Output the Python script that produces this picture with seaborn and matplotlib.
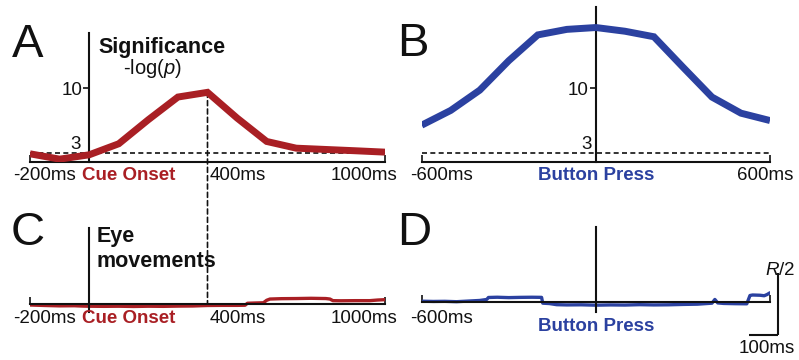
import matplotlib
matplotlib.use('Agg')
import matplotlib.pyplot as plt
from matplotlib.patches import ConnectionPatch
import seaborn as sns

# ---- data ----
# significance -log(p), one point every 100 ms
cue_ms = [-200, -100, 0, 100, 200, 300, 400, 500, 600, 700, 800, 900, 1000]
cue_sig = [2.89, 2.31, 2.78, 3.98, 6.59, 9.05, 9.56, 6.77, 4.23, 3.5, 3.36, 3.22, 3.07]
press_ms = [-600, -500, -400, -300, -200, -100, 0, 100, 200, 300, 400, 500, 600]
press_sig = [6.0, 7.6, 9.8, 13.0, 15.8, 16.4, 16.6, 16.2, 15.6, 12.3, 9.05, 7.3, 6.5]

# eye movements (units of R)
eye_cue_ms = [-200, -150, -100, -50, -20, 0, 50, 100, 150, 200, 250, 300, 350, 400,
              450, 500, 527, 535, 560, 589, 600, 611, 650, 700, 750, 800, 814,
              824, 850, 900, 949, 975, 1000]
eye_cue = [-0.008, -0.012, -0.015, -0.014, -0.017, -0.018, -0.019, -0.018, -0.02,
           -0.018, -0.019, -0.017, -0.016, -0.012, -0.011, -0.011, -0.01, 0.006,
           0.008, 0.01, 0.03, 0.04, 0.043, 0.044, 0.046, 0.044, 0.04, 0.027,
           0.026, 0.027, 0.027, 0.032, 0.035]
eye_press_ms = [-600, -560, -520, -480, -440, -400, -376, -370, -340, -300, -260,
                -220, -187, -183, -160, -135, -100, -50, 0, 50, 100, 150, 200,
                250, 300, 350, 400, 410, 420, 440, 480, 520, 531, 540, 566, 580,
                590, 600]
eye_press = [0.004, 0.002, 0.003, 0.0, 0.005, 0.01, 0.018, 0.034, 0.036, 0.033,
             0.035, 0.036, 0.035, -0.012, -0.015, -0.024, -0.026, -0.025, -0.028,
             -0.026, -0.027, -0.024, -0.026, -0.025, -0.022, -0.02, -0.012,
             0.018, -0.01, -0.014, -0.016, -0.017, 0.05, 0.054, 0.052, 0.048,
             0.058, 0.072]

red = '#A91F24'
blue = '#2B41A0'
ink = '#111111'

sns.set_theme(style='white')
plt.rcParams['font.family'] = ['Liberation Sans', 'DejaVu Sans']
plt.rcParams['mathtext.fontset'] = 'custom'
plt.rcParams['mathtext.it'] = 'Liberation Sans:italic'
plt.rcParams['mathtext.rm'] = 'Liberation Sans'
plt.rcParams['text.color'] = ink
plt.rcParams['xtick.color'] = ink
plt.rcParams['ytick.color'] = ink
plt.rcParams['xtick.labelcolor'] = ink
plt.rcParams['ytick.labelcolor'] = ink

W, H = 799, 360
fig = plt.figure(figsize=(W / 100, H / 100), dpi=100)


def px_box(x0, ytop, x1, ybot):
    return [x0 / W, 1 - ybot / H, (x1 - x0) / W, (ybot - ytop) / H]


def ftext(x, y, s, **kw):
    fig.text(x / W, 1 - y / H, s, **kw)


def lab(ax, s, x, y, dx, dy, ha, **kw):
    # dx, dy in pixels
    ax.annotate(s, xy=(x, y), xytext=(dx * 0.72, dy * 0.72), textcoords='offset points',
                ha=ha, va='top', fontsize=13.5, annotation_clip=False, **kw)


axA = fig.add_axes(px_box(30, 33, 385, 162))
axB = fig.add_axes(px_box(421.7, 7, 770, 162))
axC = fig.add_axes(px_box(30, 228, 385, 311.7))
axD = fig.add_axes(px_box(421.7, 226.7, 770, 311.7))

for ax in (axA, axB, axC, axD):
    ax.set_facecolor('none')
    for s in ('top', 'right'):
        ax.spines[s].set_visible(False)
    ax.spines['left'].set_position(('data', 0))
    for s in ('left', 'bottom'):
        ax.spines[s].set_color(ink)
        ax.spines[s].set_linewidth(1.5)
    ax.set_xlabel('')
    ax.set_ylabel('')

# ---- A / B : significance ----
axA.set_xlim(-200, 1000)
axA.set_ylim(2, 16)
axB.set_xlim(-600, 600)
axB.set_ylim(2, 2 + 155 / 9.21)

for ax, xs, ys, col in ((axA, cue_ms, cue_sig, red), (axB, press_ms, press_sig, blue)):
    ax.axhline(3, color=ink, lw=1.2, ls='--', dashes=(3, 2), zorder=1)
    sns.lineplot(x=xs, y=ys, ax=ax, color=col, lw=5, zorder=3,
                 solid_joinstyle='miter', solid_capstyle='butt')
    ax.set_xticks([ax.get_xlim()[0], ax.get_xlim()[1]])
    ax.set_xticklabels([])
    ax.tick_params(axis='x', direction='in', length=5, width=1.2, color=ink, bottom=True)
    ax.set_yticks([10])
    ax.set_yticklabels(['10'], fontsize=13.5)
    ax.tick_params(axis='y', direction='out', length=4, width=1.2, color=ink,
                   pad=1, left=True)

axA.annotate('3', xy=(0, 3), xytext=(-8 * 0.72, 0), textcoords='offset points',
             ha='right', va='bottom', fontsize=13.5)
axB.annotate('3', xy=(0, 3), xytext=(-4 * 0.72, 0), textcoords='offset points',
             ha='right', va='bottom', fontsize=13.5)

yb = 2
lab(axA, '-200ms', -200, yb, -17, -5, 'left')
lab(axA, 'Cue Onset', 0, yb, -7, -5, 'left', color=red, fontweight='bold')
lab(axA, '400ms', 400, yb, 2.5, -5, 'left')
lab(axA, '1000ms', 1000, yb, 12, -5, 'right')
lab(axB, '-600ms', -600, yb, -11.7, -5, 'left')
lab(axB, 'Button Press', 0, yb, 0, -5, 'center', color=blue, fontweight='bold')
lab(axB, '600ms', 600, yb, 23, -5, 'right')

# ---- C / D : eye movements ----
axC.set_xlim(-200, 1000)
axC.set_ylim(-7.7 / 124, 76 / 124)
axD.set_xlim(-600, 600)
axD.set_ylim(-10 / 124, 75 / 124)

for ax, xs, ys, col in ((axC, eye_cue_ms, eye_cue, red), (axD, eye_press_ms, eye_press, blue)):
    ax.spines['bottom'].set_position(('data', 0))
    sns.lineplot(x=xs, y=ys, ax=ax, color=col, lw=2.4, zorder=2)
    ax.set_xticks([ax.get_xlim()[0], ax.get_xlim()[1]])
    ax.set_xticklabels([])
    ax.tick_params(axis='x', direction='in', length=5, width=1.2, color=ink, bottom=True)
    ax.set_yticks([])

lab(axC, '-200ms', -200, 0, -17, -6, 'left')
lab(axC, 'Cue Onset', 0, 0, -7, -6, 'left', color=red, fontweight='bold')
lab(axC, '400ms', 400, 0, 2.5, -6, 'left')
lab(axC, '1000ms', 1000, 0, 12, -6, 'right')
lab(axD, '-600ms', -600, 0, -11.7, -8, 'left')
lab(axD, 'Button Press', 0, 0, 0, -16, 'center', color=blue, fontweight='bold')

# scale bar in D: 100 ms by R/2
axD.plot([528, 628], [-0.269, -0.269], color=ink, lw=1.5, clip_on=False,
         solid_capstyle='butt')
axD.plot([628, 628], [-0.269, 0.231], color=ink, lw=1.5, clip_on=False,
         solid_capstyle='butt')
ftext(795, 275, '$R$/2', ha='right', va='baseline', fontsize=13.5)
ftext(767, 353, '100ms', ha='center', va='baseline', fontsize=13.5)

# dashed line through the peak, running from A down to C
con = ConnectionPatch(xyA=(400, cue_sig[cue_ms.index(400)]), coordsA=axA.transData,
                      xyB=(400, 0), coordsB=axC.transData,
                      color=ink, lw=1.2, ls=(0, (3, 2)), zorder=0)
fig.add_artist(con)

# ---- titles and panel letters ----
ftext(98, 53, 'Significance', fontsize=15.5, fontweight='bold', va='baseline')
ftext(123, 74, '-log($p$)', fontsize=14.5, va='baseline')
ftext(97, 242, 'Eye', fontsize=15.5, fontweight='bold', va='baseline')
ftext(97, 267, 'movements', fontsize=15.5, fontweight='bold', va='baseline')

for letter, x, y in (('A', 12, 57), ('B', 397, 56), ('C', 11, 245), ('D', 397, 245)):
    ftext(x, y, letter, fontsize=34, va='baseline')

fig.savefig('out.png', dpi=100)
